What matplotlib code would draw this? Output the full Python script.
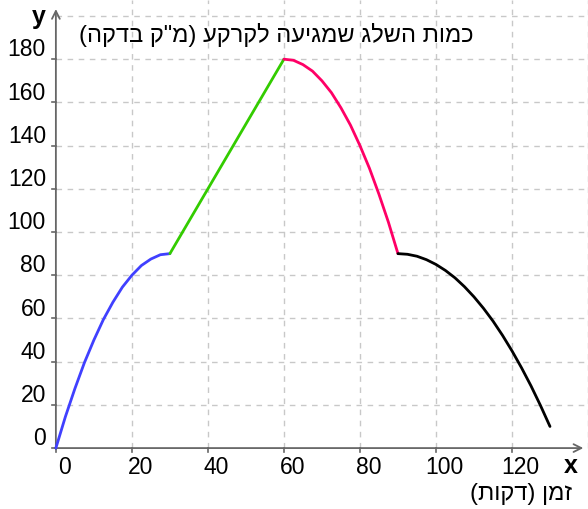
import matplotlib
matplotlib.use("Agg")
import matplotlib.pyplot as plt

plt.rcParams['font.family'] = ['Liberation Sans', 'DejaVu Sans']

# snow reaching the ground
t_blue = [0, 2.5, 5, 7.5, 10, 12.5, 15, 17.5, 20, 22.5, 25, 27.5, 30]
v_blue = [0, 14.5, 27.5, 39.5, 50, 59.5, 67.5, 74.5, 80, 84.5, 87.5, 89.5, 90]

t_green = [30, 60]
v_green = [90, 180]

t_pink = [60, 62.5, 65, 67.5, 70, 72.5, 75, 77.5, 80, 82.5, 85, 87.5, 90]
v_pink = [180, 179.5, 177.5, 174.5, 170, 164.5, 157.5, 149.5, 140, 129.5, 117.5, 104.5, 90]

t_black = [90, 92.5, 95, 97.5, 100, 102.5, 105, 107.5, 110, 112.5, 115, 117.5, 120, 122.5, 125, 127.5, 130]
v_black = [90, 89.7, 88.8, 87.2, 85, 82.2, 78.8, 74.7, 70, 64.7, 58.8, 52.2, 45, 37.2, 28.8, 19.7, 10]

x_ticks = [0, 20, 40, 60, 80, 100, 120]
y_ticks = [0, 20, 40, 60, 80, 100, 120, 140, 160, 180]

title = 'כמות השלג שמגיעה לקרקע (מ"ק בדקה)'
xlabel = 'זמן (דקות)'


def rtl(s):
    # matplotlib has no bidi: reverse and mirror brackets
    swap = {'(': ')', ')': '('}
    return ''.join(swap.get(c, c) for c in s[::-1])


fig = plt.figure(figsize=(5.88, 5.09), dpi=100)
ax = fig.add_axes([0, 0, 1, 1])
ax.axis('off')
ax.set_xlim(-14.7, 140)
ax.set_ylim(-28.2, 207.4)

gridc = '#c8c8c8'
for g in range(20, 201, 20):
    ax.plot([0, 140], [g, g], color=gridc, lw=1, ls=(0, (4, 4)), zorder=1)
for g in range(20, 141, 20):
    ax.plot([g, g], [0, 207.4], color=gridc, lw=1, ls=(0, (4, 4)), zorder=1)

axc = '#666666'
ax.annotate('', xy=(139.5, 0), xytext=(-1, 0),
            arrowprops=dict(arrowstyle='->', color=axc, lw=1.3, mutation_scale=14), zorder=2)
ax.annotate('', xy=(0, 204.5), xytext=(0, -1.8),
            arrowprops=dict(arrowstyle='->', color=axc, lw=1.3, mutation_scale=14), zorder=2)

fs = 16.5
for v in x_ticks:
    ax.plot([v, v], [0, -1.8], color=axc, lw=1.2, zorder=2)
    ax.text(v + 2.3, -8.8, str(v), ha='center', va='center', fontsize=fs)
for v in y_ticks:
    ax.plot([-1.1, 0], [v, v], color=axc, lw=1.2, zorder=2)
    ax.text(-2.6, v + 4.3, str(v), ha='right', va='center', fontsize=fs)

ax.text(-4.6, 199.5, 'y', ha='center', va='center', fontsize=18, fontweight='bold')
ax.text(135.5, -8.3, 'x', ha='center', va='center', fontsize=18, fontweight='bold')

lw = 2
ax.plot(t_blue, v_blue, color='#4040ff', lw=lw, zorder=3, solid_capstyle='round')
ax.plot(t_green, v_green, color='#33cc00', lw=lw, zorder=3, solid_capstyle='round')
ax.plot(t_pink, v_pink, color='#ff0066', lw=lw, zorder=3, solid_capstyle='round')
ax.plot(t_black, v_black, color='black', lw=lw, zorder=3, solid_capstyle='round')

ax.text(57.9, 191.2, rtl(title), ha='center', va='center', fontsize=17)
ax.text(122.4, -21.3, rtl(xlabel), ha='center', va='center', fontsize=17)

fig.savefig('out.png', dpi=100)
